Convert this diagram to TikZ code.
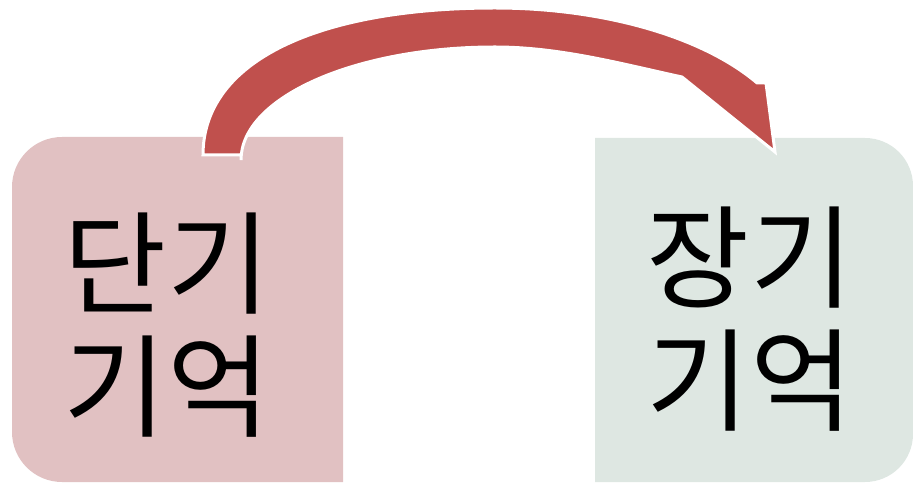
\documentclass[tikz,border=0pt]{standalone}
\usepackage{fontspec}
\newfontfamily\krfont{Noto Sans CJK KR}
\definecolor{stmfill}{RGB}{225,193,194}
\definecolor{ltmfill}{RGB}{222,231,226}
\definecolor{arrowred}{RGB}{192,80,77}
\begin{document}
\begin{tikzpicture}[x=1pt,y=1pt,
  boxtext/.style={font=\krfont\fontsize{112}{123}\selectfont, align=center, inner sep=0pt, text=black}]
\useasboundingbox (0,0) rectangle (913,482);
% left box: rounded on the left side
\fill[stmfill] (343,0) -- (62,0) arc[start angle=270,end angle=180,radius=50] -- (12,295) arc[start angle=180,end angle=90,radius=50] -- (343,345) -- cycle;
% right box: rounded on the right side
\fill[ltmfill] (595,0) -- (865,0) arc[start angle=-90,end angle=0,radius=48] -- (913,296) arc[start angle=0,end angle=90,radius=48] -- (595,344) -- cycle;
\node[boxtext] (stm) at (167,157) {단기\\기억};
\node[boxtext] (ltm) at (750,163) {장기\\기억};
% curved block arrow
\coordinate (from) at (222,327);
\coordinate (to) at (775,330);
\filldraw[fill=arrowred, draw=white, line width=3pt, line join=miter]
  (203,327) .. controls (203,422) and (320,474) .. (495,474)
  arc[start angle=90, end angle=30.5, x radius=304, y radius=152]
  -- (766,399) -- (to) -- (682,405)
  .. controls (622,418) and (560,435) .. (495,435)
  arc[start angle=90, end angle=180, x radius=254, y radius=113]
  -- (241,327) -- cycle;
\end{tikzpicture}
\end{document}
